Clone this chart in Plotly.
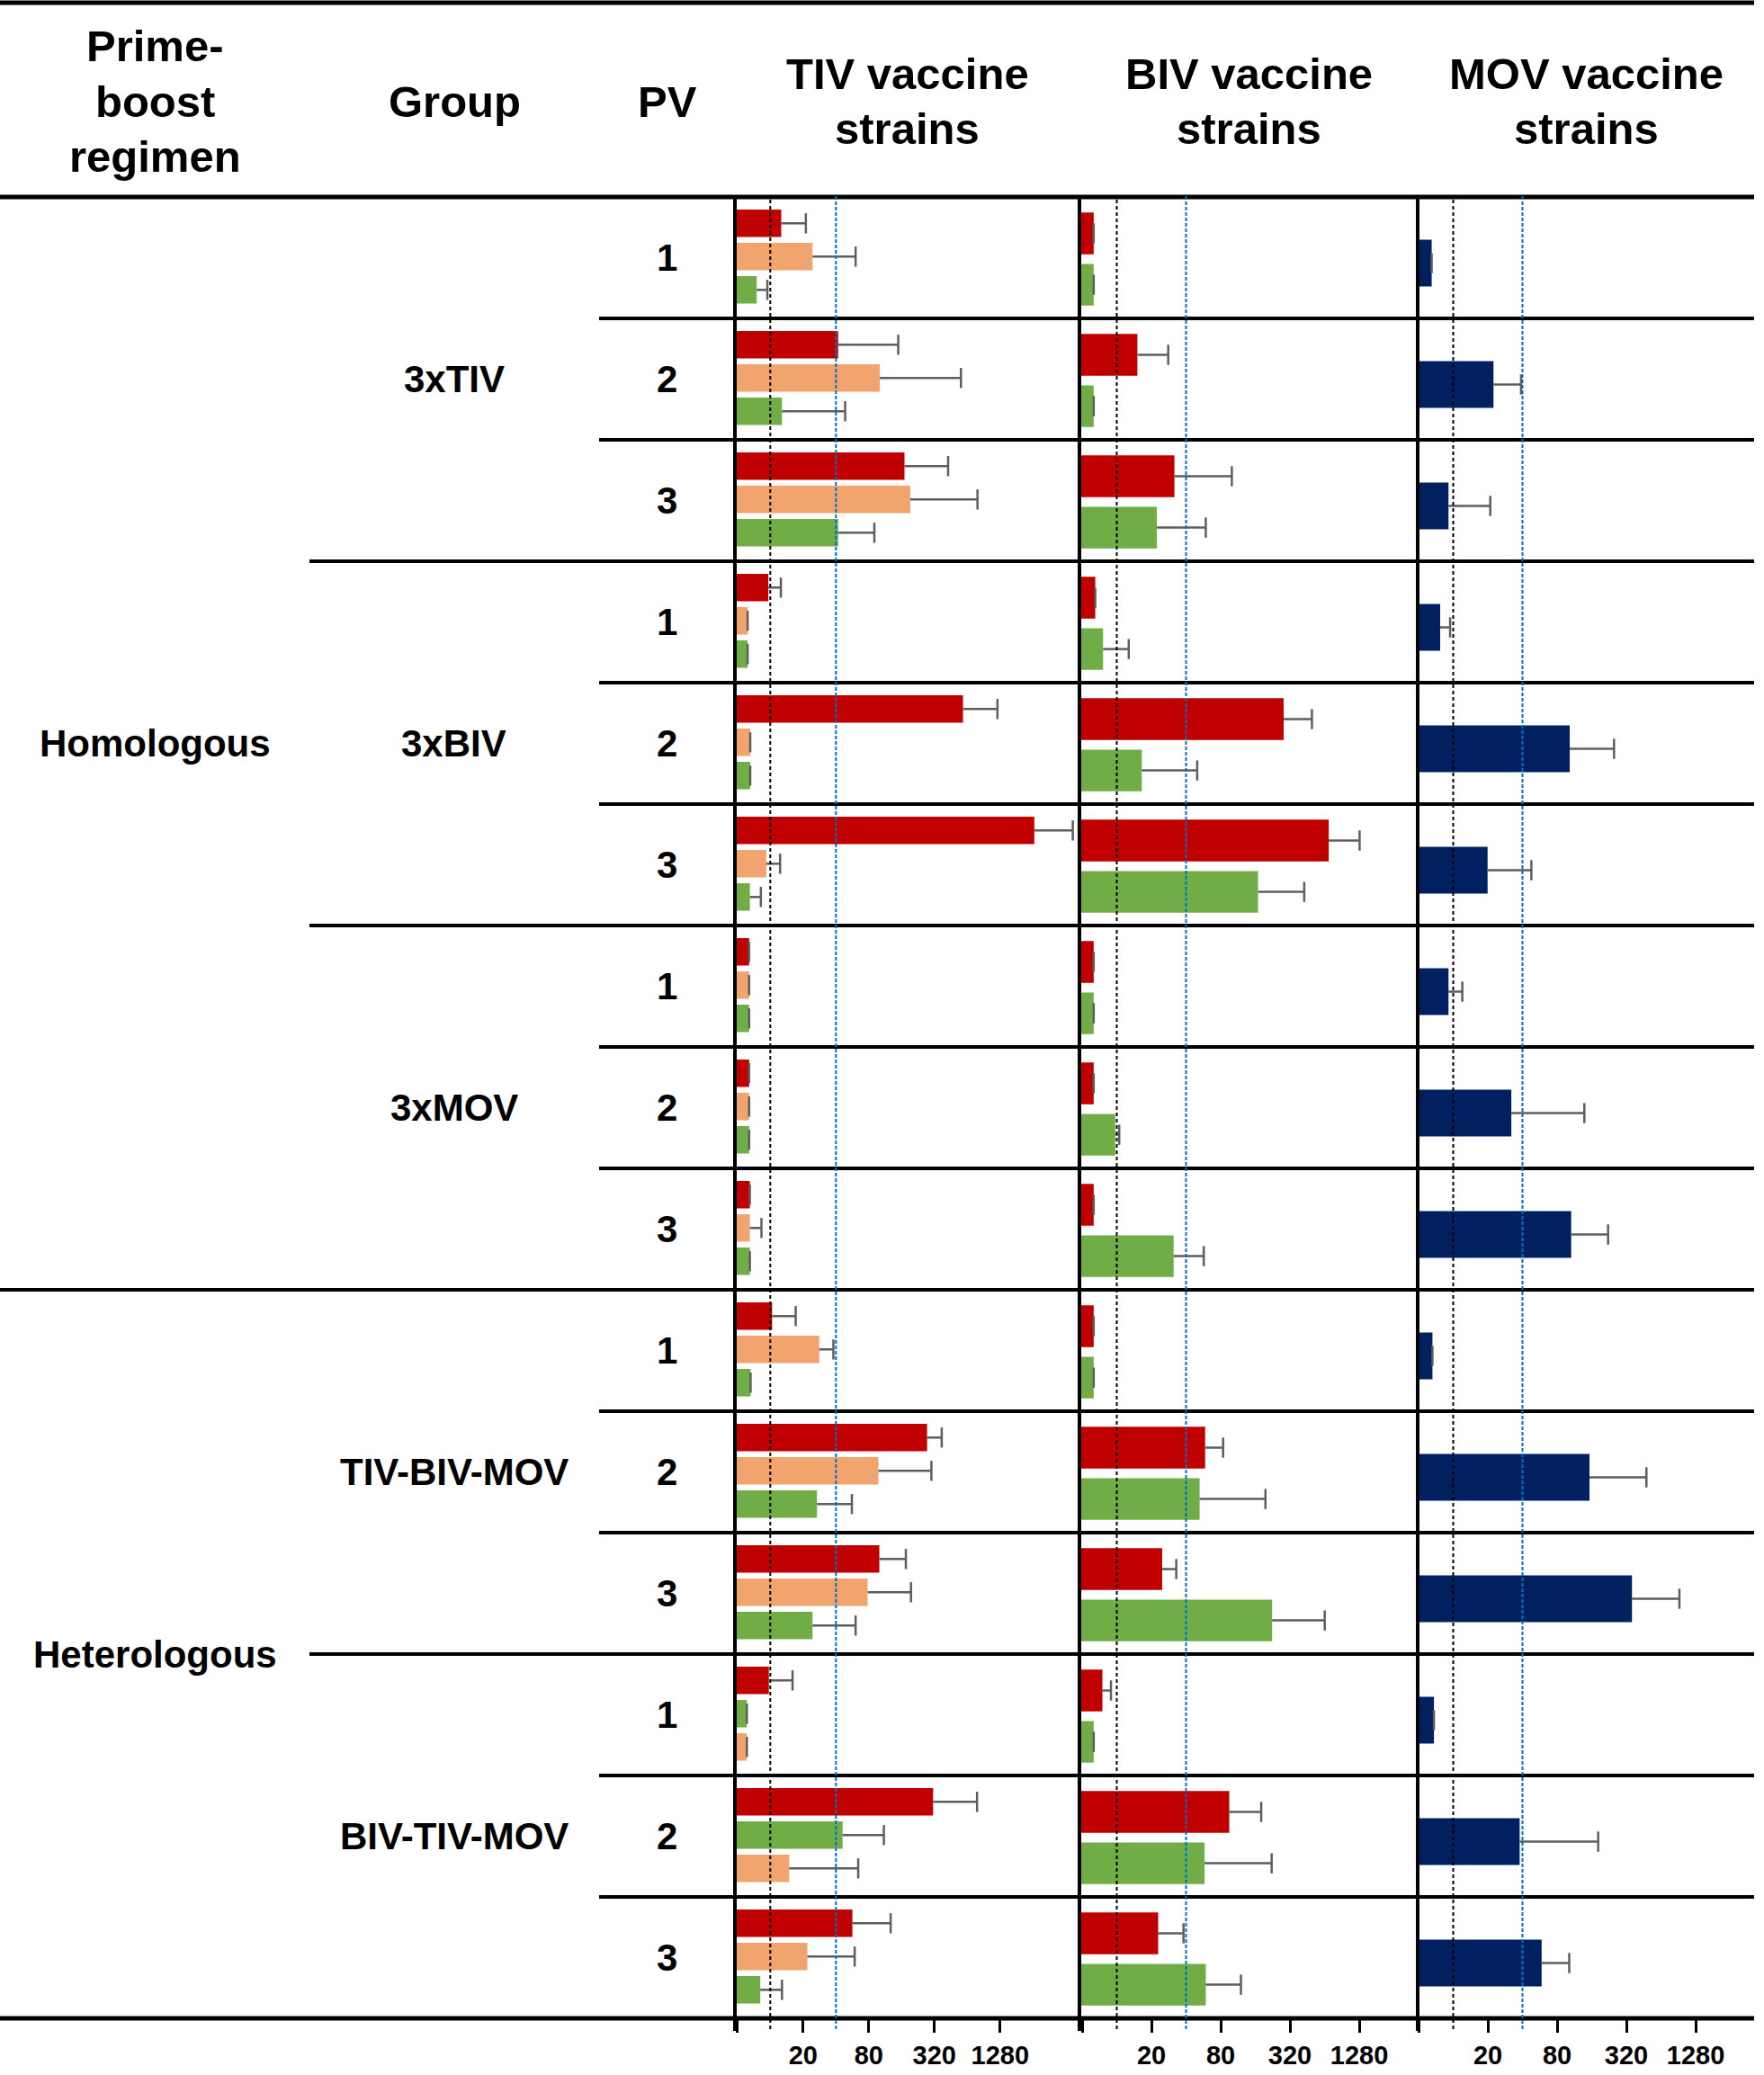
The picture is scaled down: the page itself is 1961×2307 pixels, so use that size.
import math
import plotly.graph_objects as go

# ---------------- data ----------------
row_groups = ["3xTIV", "3xBIV", "3xMOV", "TIV-BIV-MOV", "BIV-TIV-MOV"]
regimens = ["Homologous", "Heterologous"]
pv_labels = ["1", "2", "3"]
tick_vals = [5, 20, 80, 320, 1280]
tick_text = ["", "20", "80", "320", "1280"]
thresholds = [10, 40]

# TIV vaccine strains (bar value, upper end of error bar)
tiv_red = [12.6, 41.9, 170, 9.6, 585, 2636, 6.4, 6.4, 6.5, 10.4, 274, 100, 9.7, 311, 56.6]
tiv_red_hi = [21.2, 149, 427, 12.5, 1210, 5940, 6.4, 6.4, 6.5, 17.1, 373, 175, 16, 787, 127]
tiv_orange = [24.4, 101, 192, 6.2, 6.55, 9.2, 6.4, 6.4, 6.5, 28.1, 98, 78, 6.1, 14.9, 21.9]
tiv_orange_hi = [60.6, 560, 794, 6.2, 6.55, 12.3, 6.4, 6.4, 8.3, 37.9, 300, 195, 6.1, 64, 59.4]
tiv_green = [7.5, 12.8, 41.9, 6.2, 6.55, 6.5, 6.4, 6.4, 6.5, 6.6, 26.8, 24.4, 6.1, 46, 8.1]
tiv_green_hi = [9.4, 48.6, 90, 6.2, 6.55, 8.2, 6.4, 6.4, 6.5, 6.6, 56, 60.6, 6.1, 110, 12.8]

# BIV vaccine strains
biv_red = [6.3, 15.1, 31.7, 6.5, 282, 695, 6.3, 6.3, 6.3, 6.3, 58.6, 24.8, 7.5, 95, 22.9]
biv_red_hi = [6.3, 28, 100, 6.5, 497, 1290, 6.3, 6.3, 6.3, 6.3, 84, 32.9, 8.9, 180, 38]
biv_green = [6.3, 6.3, 22.3, 7.6, 16.5, 169, 6.3, 9.7, 31.2, 6.3, 52.5, 224, 6.3, 58, 59.4]
biv_green_hi = [6.3, 6.3, 59.4, 12.7, 50, 426, 6.3, 10.5, 57, 6.3, 196, 642, 6.3, 222, 120]

# MOV vaccine strains
mov_navy = [6.5, 22.4, 9.1, 7.7, 103, 19.9, 9.1, 32, 106, 6.6, 153, 358, 6.8, 37.8, 58.7]
mov_navy_hi = [6.5, 38.9, 21, 9.4, 250, 47.8, 12, 138, 222, 6.6, 478, 925, 6.8, 182, 102]

# ---------------- styles / layout ----------------
W, H = 1961, 2307
FONT = "Liberation Sans, Arial, Helvetica, sans-serif"
RED, ORANGE, GREEN, NAVY = "#C00000", "#F1A46D", "#70AD47", "#002060"
ERR = "#5E5E5E"
N = 15
TOP_Y, ROW_H = 219, 135.0
BOTTOM_Y = TOP_Y + N * ROW_H
RIGHT_X = 1950


def fx(px):
    return px / W


def fy(py):
    return 1 - py / H


# panels: left px, right px, px offset of tick "5", px per factor 4
panels = [
    dict(left=817, right=1200, off5=2.8, ppf=73.0),
    dict(left=1200, right=1576, off5=3.0, ppf=77.0),
    dict(left=1576, right=RIGHT_X, off5=1.0, ppf=77.0),
]

# slot order within each row (0=top)
tiv_orange_slot = [1] * 12 + [2, 2, 1]
tiv_green_slot = [2] * 12 + [1, 1, 2]
tiv_red_slot = [0] * 15
TIV_OFF, TIV_W = [-0.396, -0.122, 0.152], 0.226
BIV_OFF, BIV_W = [-0.372, 0.051], 0.344
MOV_OFF, MOV_W = [-0.148], 0.385

fig = go.Figure()


def add_series(vals, hi, color, slots, offs, width, ax):
    rows = list(range(N))
    offset = [offs[s] for s in slots]
    fig.add_trace(go.Bar(
        y=rows, x=vals, orientation="h", offset=offset, width=width,
        marker=dict(color=color, line=dict(width=0)),
        xaxis="x" + ax, yaxis="y" + ax, showlegend=False, hoverinfo="skip"))
    ex, ey = [], []
    cx, cy = [], []
    for r in rows:
        yc = r + offset[r] + width / 2
        ex += [vals[r], hi[r], None]
        ey += [yc, yc, None]
        cx.append(hi[r])
        cy.append(yc)
    fig.add_trace(go.Scatter(
        x=ex, y=ey, mode="lines", line=dict(color=ERR, width=2.5),
        xaxis="x" + ax, yaxis="y" + ax, showlegend=False, hoverinfo="skip"))
    fig.add_trace(go.Scatter(
        x=cx, y=cy, mode="markers",
        marker=dict(symbol="line-ns", size=16, line=dict(width=2.5, color=ERR)),
        xaxis="x" + ax, yaxis="y" + ax, showlegend=False, hoverinfo="skip"))


add_series(tiv_red, tiv_red_hi, RED, tiv_red_slot, TIV_OFF, TIV_W, "")
add_series(tiv_orange, tiv_orange_hi, ORANGE, tiv_orange_slot, TIV_OFF, TIV_W, "")
add_series(tiv_green, tiv_green_hi, GREEN, tiv_green_slot, TIV_OFF, TIV_W, "")
add_series(biv_red, biv_red_hi, RED, [0] * N, BIV_OFF, BIV_W, "2")
add_series(biv_green, biv_green_hi, GREEN, [1] * N, BIV_OFF, BIV_W, "2")
add_series(mov_navy, mov_navy_hi, NAVY, [0] * N, MOV_OFF, MOV_W, "3")

layout = dict(
    width=W, height=H, margin=dict(l=0, r=0, t=0, b=0),
    paper_bgcolor="white", plot_bgcolor="rgba(0,0,0,0)",
    barmode="overlay", showlegend=False,
    font=dict(family=FONT, color="black"),
)
ydom = [fy(BOTTOM_Y), fy(TOP_Y)]
for i, p in enumerate(panels):
    suf = "" if i == 0 else str(i + 1)
    l4 = math.log10(4)
    start = math.log10(5) - p["off5"] / p["ppf"] * l4
    end = start + (p["right"] - p["left"]) / p["ppf"] * l4
    layout["xaxis" + suf] = dict(
        domain=[fx(p["left"]), fx(p["right"])], type="log", range=[start, end],
        anchor="y" + suf, showgrid=False, zeroline=False, showline=False,
        tickvals=tick_vals, ticktext=["<b>%s</b>" % t if t else "" for t in tick_text],
        ticks="outside", ticklen=15, tickwidth=3, tickcolor="black",
        tickfont=dict(family=FONT, size=29, color="black"))
    layout["yaxis" + suf] = dict(
        domain=ydom, range=[N - 0.5, -0.5], anchor="x" + suf,
        showgrid=False, zeroline=False, showline=False, showticklabels=False, ticks="")
fig.update_layout(**layout)

shapes = []
# horizontal lines
shapes.append(dict(type="line", xref="paper", yref="paper", x0=0, x1=fx(RIGHT_X),
                   y0=fy(3), y1=fy(3), line=dict(color="black", width=5)))
for k in range(N + 1):
    y = TOP_Y + k * ROW_H
    if k in (0, 9, 15):
        x0 = 0
    elif k % 3 == 0:
        x0 = 344
    else:
        x0 = 666
    shapes.append(dict(type="line", xref="paper", yref="paper", x0=fx(x0), x1=fx(RIGHT_X),
                       y0=fy(y), y1=fy(y), line=dict(color="black", width=5 if k in (0, 15) else 4)))
# vertical panel lines
for p in panels:
    shapes.append(dict(type="line", xref="paper", yref="paper", x0=fx(p["left"]), x1=fx(p["left"]),
                       y0=fy(TOP_Y), y1=fy(BOTTOM_Y + 14), line=dict(color="black", width=4)))
# threshold lines
for i in range(3):
    suf = "" if i == 0 else str(i + 1)
    for t, col, dash in ((thresholds[0], "black", "4px,3px"), (thresholds[1], "#0070C0", "4px,2px")):
        shapes.append(dict(type="line", xref="x" + suf, yref="paper", x0=t, x1=t,
                           y0=fy(BOTTOM_Y + 12), y1=fy(TOP_Y - 2),
                           line=dict(color=col, width=2, dash=dash), layer="above"))
fig.update_layout(shapes=shapes)

ann = []


def text(s, x, y, size):
    ann.append(dict(text="<b>%s</b>" % s, x=fx(x), y=fy(y), xref="paper", yref="paper",
                    xanchor="center", yanchor="middle", showarrow=False,
                    font=dict(family=FONT, size=size, color="black")))


HS = 49
for s, y in (("Prime-", 51), ("boost", 113), ("regimen", 174)):
    text(s, 172, y, HS)
text("Group", 506, 113, HS)
text("PV", 742, 113, HS)
for s, x in (("TIV vaccine", 1009), ("BIV vaccine", 1388), ("MOV vaccine", 1763)):
    text(s, x, 82, HS)
    text("strains", x, 143, HS)

text(regimens[0], 172, TOP_Y + 4.5 * ROW_H, 42)
text(regimens[1], 172, TOP_Y + 12 * ROW_H, 42)
for g, name in enumerate(row_groups):
    text(name, 505, TOP_Y + (3 * g + 1.5) * ROW_H, 42)
    for j, pv in enumerate(pv_labels):
        text(pv, 741, TOP_Y + (3 * g + j + 0.5) * ROW_H, 42)
fig.update_layout(annotations=ann)

fig.write_html("out.html", config={"displayModeBar": False},
               post_script="document.body.style.margin='0';document.body.style.padding='0';")
